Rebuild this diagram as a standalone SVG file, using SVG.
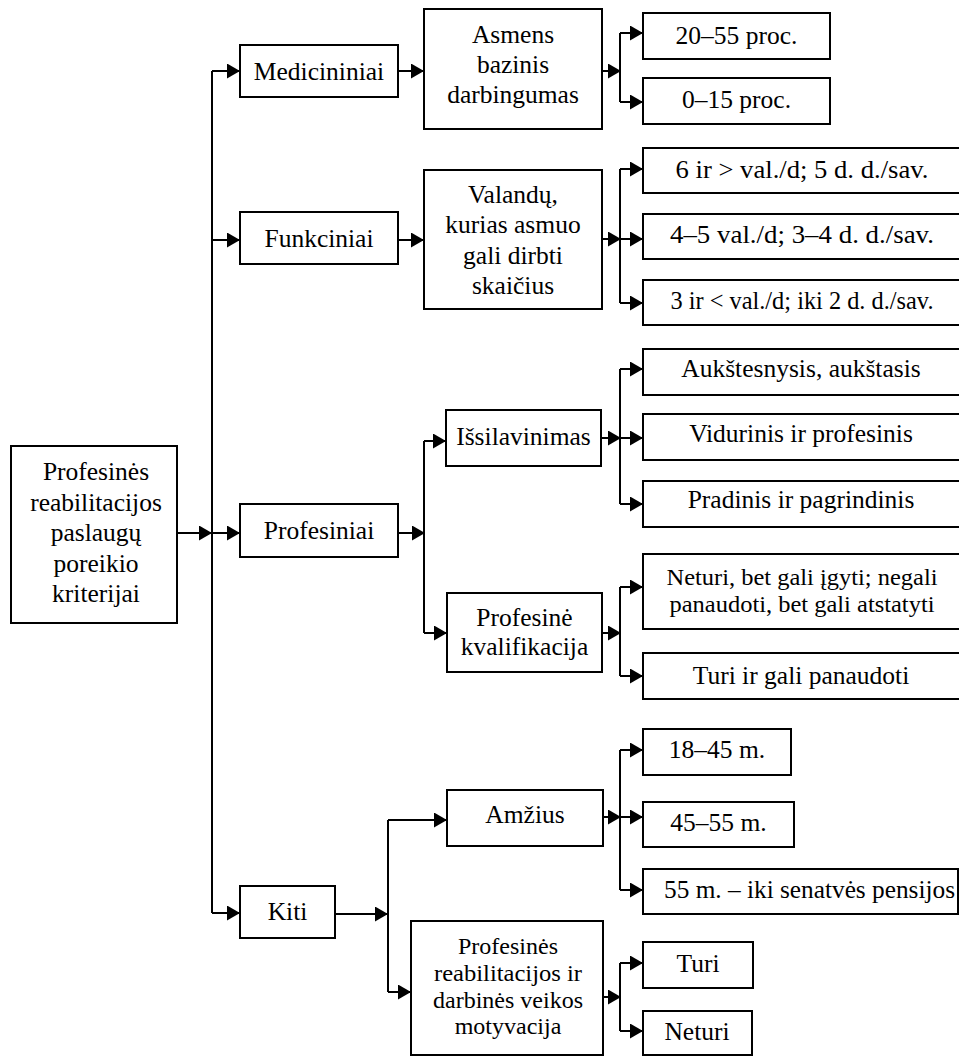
<svg xmlns="http://www.w3.org/2000/svg" width="959" height="1056" viewBox="0 0 959 1056" font-family="Liberation Serif, Times New Roman, Times, serif">
<defs>
<marker id="ah" markerUnits="userSpaceOnUse" markerWidth="14" markerHeight="16" refX="13" refY="7.5" orient="auto">
<path d="M0,0 L13,7.5 L0,15 z" fill="#000"/>
</marker>
<style>
.b{fill:#fff;stroke:#000;stroke-width:2}
.t{font-size:25.5px;fill:#000;text-anchor:middle}
.s{font-size:24px}
.c{fill:none;stroke:#000;stroke-width:2}
.a{fill:none;stroke:#000;stroke-width:2;marker-end:url(#ah)}
</style>
</defs>
<rect width="959" height="1056" fill="#fff"/>

<g id="connectors">
<path class="a" d="M177,533 H212"/>
<path class="c" d="M212,71 V913"/>
<path class="a" d="M212,71 H240"/>
<path class="a" d="M212,240 H240"/>
<path class="a" d="M212,533 H240"/>
<path class="a" d="M212,913 H240"/>
<path class="a" d="M398,71 H424"/>
<path class="a" d="M398,240 H424"/>
<path class="a" d="M602,71 H621"/>
<path class="c" d="M620,33 V102"/>
<path class="a" d="M620,33 H643"/>
<path class="a" d="M620,102 H643"/>
<path class="a" d="M602,239 H621"/>
<path class="c" d="M620,169 V303"/>
<path class="a" d="M620,169 H643"/>
<path class="a" d="M620,239 H643"/>
<path class="a" d="M620,303 H643"/>
<path class="a" d="M398,533 H425"/>
<path class="c" d="M424,441 V633"/>
<path class="a" d="M424,441 H446"/>
<path class="a" d="M424,633 H447"/>
<path class="a" d="M601,438 H621"/>
<path class="c" d="M620,369 V504"/>
<path class="a" d="M620,369 H643"/>
<path class="a" d="M620,438 H643"/>
<path class="a" d="M620,504 H643"/>
<path class="a" d="M602,633 H621"/>
<path class="c" d="M620,587 V676"/>
<path class="a" d="M620,587 H643"/>
<path class="a" d="M620,676 H643"/>
<path class="a" d="M335,914 H388"/>
<path class="c" d="M388,820 V992"/>
<path class="a" d="M388,820 H447"/>
<path class="a" d="M388,992 H411"/>
<path class="a" d="M603,817 H621"/>
<path class="c" d="M620,750 V890"/>
<path class="a" d="M620,750 H643"/>
<path class="a" d="M620,817 H643"/>
<path class="a" d="M620,890 H643"/>
<path class="a" d="M603,997 H621"/>
<path class="c" d="M620,963 V1031"/>
<path class="a" d="M620,963 H643"/>
<path class="a" d="M620,1031 H643"/>
</g>

<g id="root">
<rect class="b" x="11" y="446" width="166" height="177"/>
<text class="t" x="96" y="480">Profesinės</text>
<text class="t" x="96" y="510.5">reabilitacijos</text>
<text class="t" x="96" y="541">paslaugų</text>
<text class="t" x="96" y="571.5">poreikio</text>
<text class="t" x="96" y="602">kriterijai</text>
</g>

<g id="medicininiai">
<rect class="b" x="240" y="45" width="158" height="52"/>
<text class="t" x="319" y="80">Medicininiai</text>
</g>
<g id="funkciniai">
<rect class="b" x="240" y="212" width="158" height="52"/>
<text class="t" x="319" y="247">Funkciniai</text>
</g>
<g id="profesiniai">
<rect class="b" x="240" y="504" width="158" height="53"/>
<text class="t" x="319" y="539">Profesiniai</text>
</g>
<g id="kiti">
<rect class="b" x="240" y="886" width="95" height="52"/>
<text class="t" x="287.5" y="920">Kiti</text>
</g>

<g id="asmens">
<rect class="b" x="424" y="9" width="178" height="120"/>
<text class="t" x="513" y="43">Asmens</text>
<text class="t" x="513" y="73">bazinis</text>
<text class="t" x="513" y="103">darbingumas</text>
</g>
<g id="valandu">
<rect class="b" x="424" y="170" width="178" height="139"/>
<text class="t" x="513" y="203">Valandų,</text>
<text class="t" x="513" y="233">kurias asmuo</text>
<text class="t" x="513" y="264">gali dirbti</text>
<text class="t" x="513" y="294">skaičius</text>
</g>
<g id="issilavinimas">
<rect class="b" x="446" y="410" width="155" height="56"/>
<text class="t" x="523.5" y="445">Išsilavinimas</text>
</g>
<g id="kvalifikacija">
<rect class="b" x="447" y="593" width="155" height="79"/>
<text class="t" x="524.5" y="626">Profesinė</text>
<text class="t" x="524.5" y="655">kvalifikacija</text>
</g>
<g id="amzius">
<rect class="b" x="447" y="790" width="156" height="56"/>
<text class="t" x="525" y="823">Amžius</text>
</g>
<g id="motyvacija">
<rect class="b" x="411" y="921" width="192" height="134"/>
<text class="t s" x="508" y="954">Profesinės</text>
<text class="t s" x="508" y="981" textLength="148" lengthAdjust="spacingAndGlyphs">reabilitacijos ir</text>
<text class="t s" x="508" y="1008">darbinės veikos</text>
<text class="t s" x="508" y="1034">motyvacija</text>
</g>

<g id="p20-55">
<rect class="b" x="643" y="13" width="187" height="46"/>
<text class="t" x="736.5" y="44">20–55 proc.</text>
</g>
<g id="p0-15">
<rect class="b" x="643" y="78" width="187" height="46"/>
<text class="t" x="736.5" y="108">0–15 proc.</text>
</g>
<g id="h6">
<rect class="b" x="643" y="148" width="320" height="45"/>
<text class="t" x="802" y="178" textLength="253" lengthAdjust="spacingAndGlyphs">6 ir &gt; val./d; 5 d. d./sav.</text>
</g>
<g id="h4-5">
<rect class="b" x="643" y="214" width="320" height="45"/>
<text class="t" x="802" y="243" textLength="264" lengthAdjust="spacingAndGlyphs">4–5 val./d; 3–4 d. d./sav.</text>
</g>
<g id="h3">
<rect class="b" x="643" y="280" width="320" height="45"/>
<text class="t" x="802" y="309" textLength="263" lengthAdjust="spacingAndGlyphs">3 ir &lt; val./d; iki 2 d. d./sav.</text>
</g>
<g id="aukstesnysis">
<rect class="b" x="643" y="349" width="320" height="46"/>
<text class="t" x="801" y="377">Aukštesnysis, aukštasis</text>
</g>
<g id="vidurinis">
<rect class="b" x="643" y="414" width="320" height="46"/>
<text class="t" x="801" y="442">Vidurinis ir profesinis</text>
</g>
<g id="pradinis">
<rect class="b" x="643" y="481" width="320" height="46"/>
<text class="t" x="801" y="508">Pradinis ir pagrindinis</text>
</g>
<g id="neturi-bet">
<rect class="b" x="643" y="554" width="320" height="75"/>
<text class="t s" x="802" y="585" textLength="271" lengthAdjust="spacingAndGlyphs">Neturi, bet gali įgyti; negali</text>
<text class="t s" x="802" y="612" textLength="265" lengthAdjust="spacingAndGlyphs">panaudoti, bet gali atstatyti</text>
</g>
<g id="turi-gali">
<rect class="b" x="643" y="653" width="320" height="46"/>
<text class="t" x="801" y="684">Turi ir gali panaudoti</text>
</g>
<g id="a18-45">
<rect class="b" x="643" y="729" width="148" height="46"/>
<text class="t" x="717" y="758">18–45 m.</text>
</g>
<g id="a45-55">
<rect class="b" x="643" y="802" width="151" height="45"/>
<text class="t" x="718.5" y="831">45–55 m.</text>
</g>
<g id="a55">
<rect class="b" x="643" y="869" width="315" height="45"/>
<text class="t" x="809.5" y="898" textLength="291" lengthAdjust="spacingAndGlyphs">55 m. – iki senatvės pensijos</text>
</g>
<g id="turi">
<rect class="b" x="643" y="942" width="110" height="46"/>
<text class="t" x="698" y="972">Turi</text>
</g>
<g id="neturi">
<rect class="b" x="643" y="1011" width="109" height="44"/>
<text class="t" x="697" y="1040">Neturi</text>
</g>
</svg>
